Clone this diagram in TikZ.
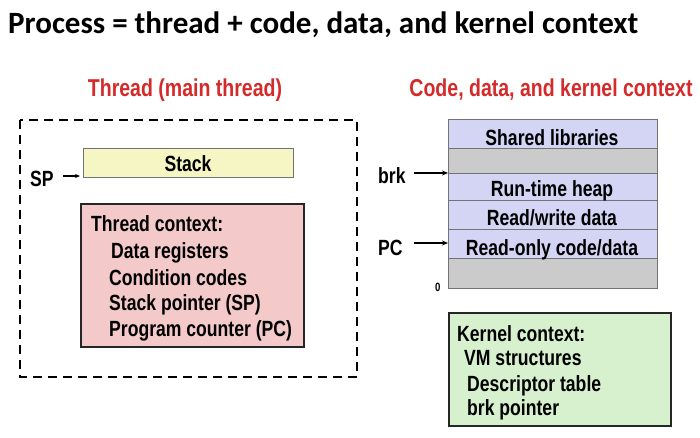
\documentclass[tikz,border=0pt]{standalone}
\usepackage{fontspec}
\usetikzlibrary{arrows.meta}
\newfontfamily\titlefont{Carlito}
\newfontfamily\narrowsans{Liberation Sans}[FakeStretch=0.8]
\definecolor{headred}{HTML}{D42A2A}
\definecolor{stackfill}{HTML}{F6F5C4}
\definecolor{ctxfill}{HTML}{F4C9C9}
\definecolor{memfill}{HTML}{D4D4F5}
\definecolor{gapfill}{HTML}{CBCBCB}
\definecolor{kernfill}{HTML}{D7F1CE}
\tikzset{
  txt/.style={inner sep=0pt, anchor=base west, font=\narrowsans\bfseries\fontsize{22}{26}\selectfont},
  head/.style={inner sep=0pt, anchor=base, text=headred, font=\narrowsans\bfseries\fontsize{24.4}{28}\selectfont},
  thinbox/.style={draw=black!55, line width=1pt, inner sep=0pt, anchor=north west},
  thickbox/.style={draw=black!85, line width=2pt, inner sep=0pt, anchor=north west},
  ptr/.style={-{Stealth[length=6pt,width=5pt]}, line width=1.2pt},
}
\begin{document}
\begin{tikzpicture}[x=1pt,y=-1pt]
\useasboundingbox (0,0) rectangle (700,437);

% heading
\node[inner sep=0pt, anchor=base west, font=\titlefont\bfseries\fontsize{31}{36}\selectfont] (title) at (8,33)
  {Process = thread + code, data, and kernel context};

% ---------- thread side ----------
\node[head] (thead) at (185,96) {Thread (main thread)};
\draw[black, line width=1.5pt, dash pattern=on 9pt off 6pt] (20,120) rectangle (357,377);

\node[thinbox, fill=stackfill, minimum width=210pt, minimum height=29pt] (stack) at (83,148) {};
\node[txt, anchor=base] (stacklbl) at (188,171) {Stack};
\node[txt] (sp) at (30,186) {SP};
\coordinate (sptip) at (80,176);
\draw[-{Stealth[length=5pt,width=4pt]}, line width=1.1pt] (sp.east |- sptip) ++(9pt,0) -- (sptip);

\node[thickbox, fill=ctxfill, minimum width=223pt, minimum height=143pt] (tctx) at (80,203) {};
\node[txt] (tc0) at (91,231) {Thread context:};
\node[txt] (tc1) at (111,258) {Data registers};
\node[txt] (tc2) at (109,285) {Condition codes};
\node[txt] (tc3) at (109,310) {Stack pointer (SP)};
\node[txt] (tc4) at (109,336) {Program counter (PC)};

% ---------- code / data / kernel side ----------
\node[head] (chead) at (551,96) {Code, data, and kernel context};

\node[thinbox, fill=memfill, minimum width=209pt, minimum height=29pt] (shlib) at (448,119) {};
\node[thinbox, fill=gapfill, minimum width=209pt, minimum height=25pt] (gap1) at (448,148) {};
\node[thinbox, fill=memfill, minimum width=209pt, minimum height=27pt] (heap) at (448,173) {};
\node[thinbox, fill=memfill, minimum width=209pt, minimum height=29pt] (rw) at (448,200) {};
\node[thinbox, fill=memfill, minimum width=209pt, minimum height=29pt] (ro) at (448,229) {};
\node[thinbox, fill=gapfill, minimum width=209pt, minimum height=30pt] (gap2) at (448,258) {};

\node[txt, anchor=base] (shlibl) at (552,145) {Shared libraries};
\node[txt, anchor=base] (heapl) at (552,196) {Run-time heap};
\node[txt, anchor=base] (rwl) at (552,225) {Read/write data};
\node[txt, anchor=base] (rol) at (552,255) {Read-only code/data};

\node[txt] (brk) at (378,183) {brk};
\node[txt] (pc) at (378,255) {PC};
\draw[ptr] (414,173) -- (heap.north west);
\draw[ptr] (414,243) -- (ro.west |- 0,243);
\node[txt, font=\narrowsans\bfseries\fontsize{12}{14}\selectfont] (zero) at (435,291) {0};

\node[thickbox, fill=kernfill, minimum width=222pt, minimum height=113pt] (kctx) at (448,312) {};
\node[txt] (kc0) at (457,341) {Kernel context:};
\node[txt] (kc1) at (464,365) {VM structures};
\node[txt] (kc2) at (467,391) {Descriptor table};
\node[txt] (kc3) at (467,415) {brk pointer};
\end{tikzpicture}
\end{document}
